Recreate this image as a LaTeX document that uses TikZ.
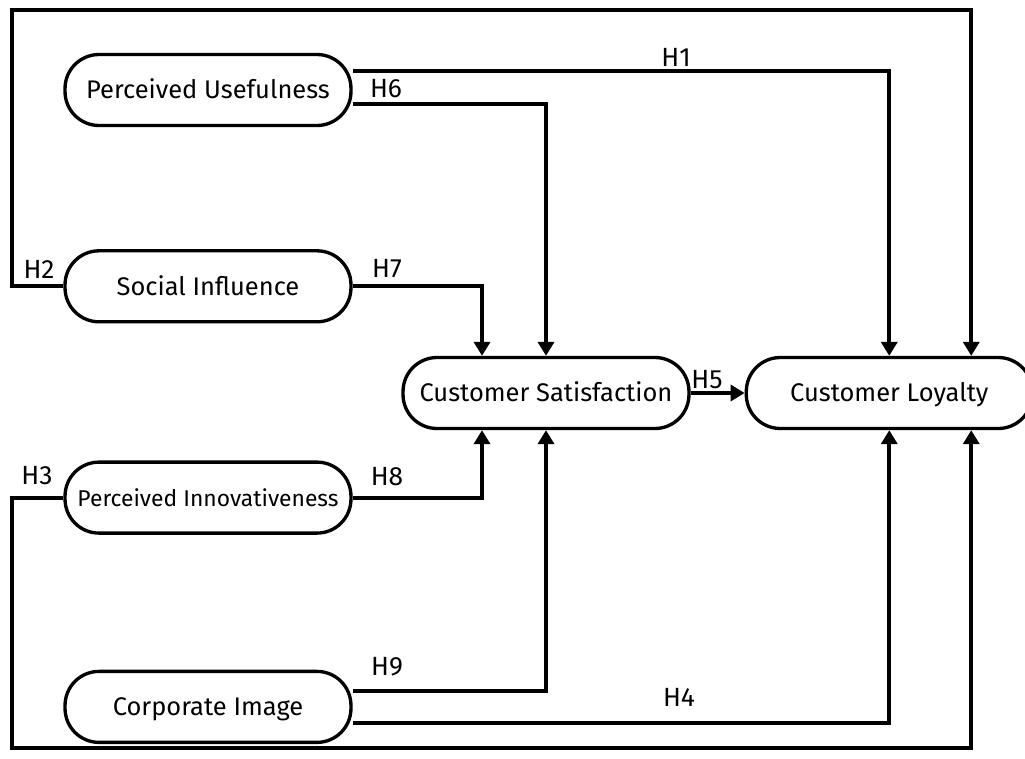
\documentclass[tikz,border=0pt]{standalone}
\usepackage{fontspec}
\setmainfont{Fira Sans}
\usetikzlibrary{arrows.meta, positioning}

\begin{document}
\begin{tikzpicture}[x=0.02cm, y=-0.02cm,
    construct/.style={draw, fill=white, line width=1.9pt, rounded corners=0.68cm,
        minimum width=5.72cm, minimum height=1.42cm, text height=12.5pt, text depth=2.5pt,
        font=\fontsize{14.5}{17}\selectfont},
    link/.style={line width=2.3pt, -{Triangle[length=0.28cm, width=0.32cm]}},
    hyp/.style={inner sep=0pt, font=\fontsize{15}{18}\selectfont}]
    \useasboundingbox (0,0) rectangle (1025,758);

    % constructs
    \node[construct] (pu) at (208,90) {Perceived Usefulness};
    \node[construct, below=2.44cm of pu] (si) {Social Influence};
    \node[construct, below=2.74cm of si, font=\fontsize{13}{15}\selectfont] (pi) {Perceived Innovativeness};
    \node[construct, below=2.7cm of pi] (ci) {Corporate Image};
    \node[construct] (cs) at (546,393) {Customer Satisfaction};
    \node[construct, right=1.08cm of cs] (cl) {Customer Loyalty};

    % paths into satisfaction
    \draw[link] ([yshift=-0.28cm]pu.east) -| (cs.north);
    \draw[link] (si.east) -| ([xshift=-1.28cm]cs.north);
    \draw[link] (pi.east) -| ([xshift=-1.28cm]cs.south);
    \draw[link] ([yshift=0.32cm]ci.east) -| (cs.south);
    \draw[link] (cs) -- (cl);

    % paths into loyalty
    \draw[link] ([yshift=0.38cm]pu.east) -| (cl.north);
    \draw[link] ([yshift=-0.32cm]ci.east) -| (cl.south);
    \draw[link] (si.west) -| (12,10) -| ([xshift=1.64cm]cl.north);
    \draw[link] (pi.west) -| (12,748) -| ([xshift=1.64cm]cl.south);

    % hypotheses
    \node[hyp] (h1) at (676,57) {H1};
    \node[hyp] (h2) at (39,269) {H2};
    \node[hyp] (h3) at (37,476) {H3};
    \node[hyp] (h4) at (679,697) {H4};
    \node[hyp] (h5) at (707,380) {H5};
    \node[hyp] (h6) at (386,89) {H6};
    \node[hyp] (h7) at (387,269) {H7};
    \node[hyp] (h8) at (387,477) {H8};
    \node[hyp] (h9) at (387,667) {H9};
\end{tikzpicture}
\end{document}
